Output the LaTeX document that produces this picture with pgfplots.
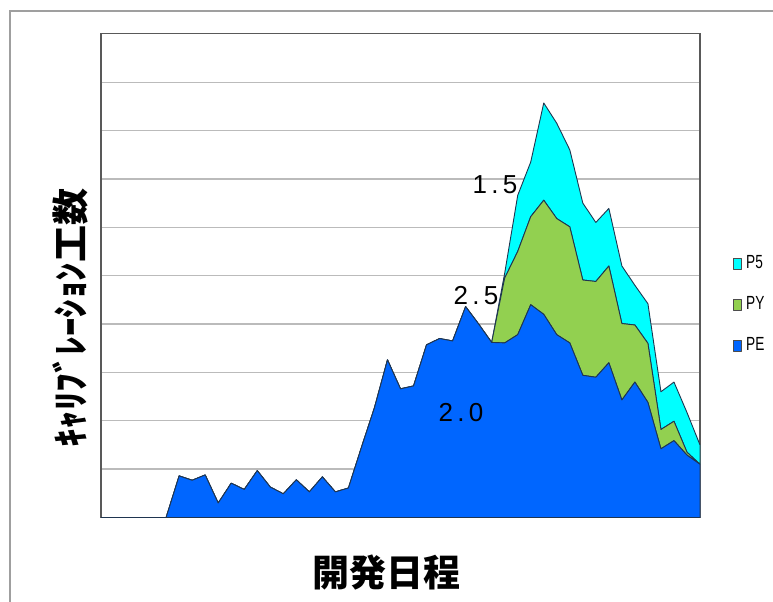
\documentclass[border=0pt]{standalone}
\usepackage{pgfplots}
\pgfplotsset{compat=1.18}
\usepackage{pgfplotstable}
\usepackage{fontspec}
\setmainfont{Liberation Sans}
\newfontfamily\cjk{Noto Sans CJK JP}
\newfontfamily\narrow[FakeStretch=0.72]{Liberation Sans}

\definecolor{peblue}{HTML}{0066FF}
\definecolor{pygreen}{HTML}{92D050}
\definecolor{p5cyan}{HTML}{00FFFF}
\definecolor{gridgray}{HTML}{BBBBBB}
\definecolor{edge}{HTML}{1F3550}

% day, PE, PY, P5
\pgfplotstableread{
i pe py p5
0 0 0 0
1 0 0 0
2 0 0 0
3 0 0 0
4 0 0 0
5 0 0 0
6 0.86 0 0
7 0.77 0 0
8 0.88 0 0
9 0.30 0 0
10 0.71 0 0
11 0.58 0 0
12 0.97 0 0
13 0.63 0 0
14 0.49 0 0
15 0.78 0 0
16 0.53 0 0
17 0.84 0 0
18 0.53 0 0
19 0.61 0 0
20 1.45 0 0
21 2.27 0 0
22 3.26 0 0
23 2.66 0 0
24 2.72 0 0
25 3.57 0 0
26 3.70 0 0
27 3.65 0 0
28 4.36 0 0
29 4.00 0 0
30 3.62 0 0
31 3.61 1.34 0.10
32 3.78 1.72 1.16
33 4.40 1.82 1.13
34 4.20 2.36 2.01
35 3.78 2.40 1.97
36 3.61 2.40 1.59
37 2.94 1.97 1.59
38 2.90 1.98 1.22
39 3.20 2.00 1.19
40 2.43 1.58 1.19
41 2.80 1.18 0.82
42 2.38 1.22 0.82
43 1.42 0.40 0.78
44 1.59 0.40 0.81
45 1.29 0.06 0.82
46 1.10 0.00 0.40
}\effort

\begin{document}
\begin{tikzpicture}
% pixel grid: 1px = 0.5bp, origin top-left
\begin{scope}[x=0.5bp,y=-0.5bp]
\path[use as bounding box] (0,0) rectangle (773,602);
\draw[gray!75, line width=0.6bp] (10,602) -- (10,11) -- (773,11);
\node[font=\cjk\bfseries\fontsize{18.5bp}{20bp}\selectfont, rotate=90] at (70,318) {ｷｬﾘﾌﾞﾚｰｼｮﾝ工数};
\node[font=\cjk\bfseries\fontsize{18.5bp}{20bp}\selectfont] at (386,573) {開発日程};
\end{scope}

\begin{axis}[
  at={(50.5bp,-258.75bp)}, anchor=south west,
  scale only axis,
  width=299.5bp, height=241.85bp,
  xmin=0, xmax=46, ymin=0, ymax=10,
  xtick=\empty,
  ytick={0,1,...,10},
  yticklabels={},
  major tick length=0pt,
  ymajorgrids,
  grid style={gridgray, line width=0.65bp},
  axis line style={black!65, line width=0.6bp},
  stack plots=y,
  area style,
  axis on top=false,
  every axis plot/.append style={draw=edge, line width=0.45bp, line join=round},
  reverse legend,
  legend style={at={(1.055,0.55)}, anchor=north west, draw=none, fill=none,
    font=\narrow\fontsize{9.5bp}{10bp}\selectfont, row sep=8.5bp, inner sep=0pt},
  legend cell align=left,
  legend image code/.code={\draw[#1, draw=black!70, line width=0.4bp] (0bp,-2.6bp) rectangle (4bp,2.6bp);},
]
\addplot[fill=peblue] table[x=i, y=pe] {\effort} \closedcycle;
\addlegendentry{PE}
\addplot[fill=pygreen] table[x=i, y=py] {\effort} \closedcycle;
\addlegendentry{PY}
\addplot[fill=p5cyan] table[x=i, y=p5] {\effort} \closedcycle;
\addlegendentry{P5}
\end{axis}

\begin{scope}[x=0.5bp,y=-0.5bp, every node/.style={font=\fontsize{13bp}{14bp}\selectfont}]
\node at (495,185) {1\,.\,5};
\node at (476,296) {2\,.\,5};
\node at (461,413) {2\,.\,0};
\end{scope}
\end{tikzpicture}
\end{document}
